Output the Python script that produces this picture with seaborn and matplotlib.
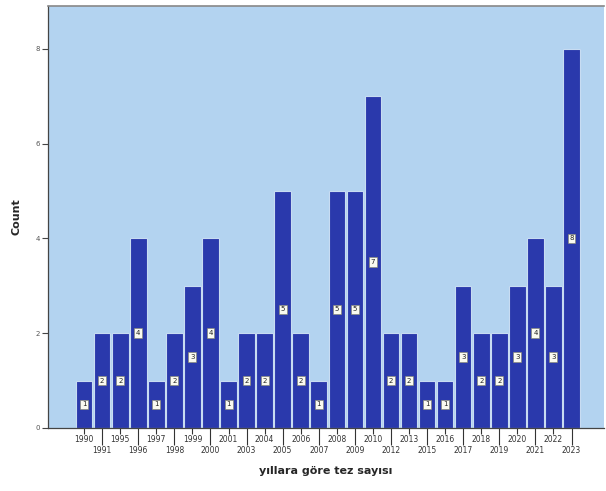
import matplotlib
matplotlib.use("Agg")
import matplotlib.pyplot as plt
import seaborn as sns
import pandas as pd

years = ["1990", "1991", "1995", "1996", "1997", "1998", "1999", "2000", "2001", "2003",
         "2004", "2005", "2006", "2007", "2008", "2009", "2010", "2012", "2013", "2015",
         "2016", "2017", "2018", "2019", "2020", "2021", "2022", "2023"]
counts = [1, 2, 2, 4, 1, 2, 3, 4, 1, 2,
          2, 5, 2, 1, 5, 5, 7, 2, 2, 1,
          1, 3, 2, 2, 3, 4, 3, 8]
yticks = [0, 2, 4, 6, 8]

df = pd.DataFrame({"year": years, "count": counts})

sns.set_style("white")
fig = plt.figure(figsize=(6.06, 4.91), dpi=100)
W, H = 606, 491
ax = fig.add_axes([48 / W, (H - 428) / H, (604 - 48) / W, (428 - 6) / H])
ax.set_facecolor("#b3d3f0")

sns.barplot(data=df, x="year", y="count", color="#2a39ac", saturation=1,
            width=0.92, edgecolor="#c8dcf2", linewidth=0.8, ax=ax)

ax.set_xlim(-2.0, 28.8)
ax.set_ylim(0, 8.9)
ax.set_yticks(yticks)
ax.set_yticklabels([str(t) for t in yticks], fontsize=5, color="#555555")
ax.tick_params(axis="y", left=True, length=4, width=0.8, color="#444444", pad=2, direction="out")

labels = [y if i % 2 == 0 else "\n" + y for i, y in enumerate(years)]
ax.set_xticks(range(len(years)))
ax.set_xticklabels(labels, fontsize=5.5, color="#333333", linespacing=1.25)
ax.tick_params(axis="x", bottom=True, direction="out", width=0.8, color="#333333", pad=1, length=4)
for i, t in enumerate(ax.xaxis.get_major_ticks()):
    t.tick1line.set_markersize(4 if i % 2 == 0 else 12)

for i, v in enumerate(counts):
    ax.text(i, v / 2, str(v), ha="center", va="center", fontsize=5, color="#222222",
            bbox=dict(boxstyle="square,pad=0.25", facecolor="#fafaf0", edgecolor="#888866", linewidth=0.4))

for s in ["left", "bottom"]:
    ax.spines[s].set_color("#444444")
    ax.spines[s].set_linewidth(0.9)
ax.spines["top"].set_color("#888888")
ax.spines["top"].set_linewidth(1.2)
ax.spines["right"].set_visible(False)

ax.set_xlabel("yıllara göre tez sayısı", fontsize=8, fontweight="bold", labelpad=8)
ax.set_ylabel("Count", fontsize=8, fontweight="bold", labelpad=10)

fig.savefig("out.png", dpi=100)
